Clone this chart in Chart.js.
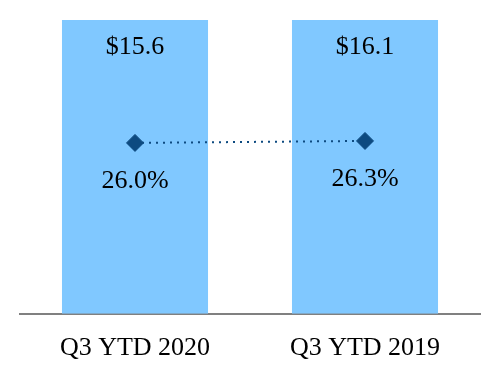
<!DOCTYPE html>
<html>
<head>
<meta charset="utf-8">
<script src="https://cdn.jsdelivr.net/npm/chart.js@4/dist/chart.umd.min.js"></script>
<style>
  html, body { margin: 0; padding: 0; background: #fff; }
  #wrap { width: 500px; height: 380px; }
</style>
</head>
<body>
<div id="wrap"><canvas id="myChart"></canvas></div>
<script>
// dati
var categorie = ['Q3 YTD 2020', 'Q3 YTD 2019'];
var fatturato = [15.6, 16.1];      // etichette in cima alle barre ($)
var altezzaBarre = [1, 1];         // le barre nel grafico hanno la stessa altezza
var margine = [26.0, 26.3];        // linea con i rombi (%)

var azzurro = '#80c8ff';
var bluScuro = '#0d4a80';
var fontSerif = '"Liberation Serif", "Times New Roman", serif';

// plugin per scrivere le etichette sopra barre e punti
var etichette = {
  id: 'etichette',
  afterDatasetsDraw: function(chart){
    var ctx = chart.ctx;
    ctx.save();
    ctx.font = '26px ' + fontSerif;
    ctx.fillStyle = '#000';
    ctx.textAlign = 'center';
    ctx.textBaseline = 'middle';
    var barre = chart.getDatasetMeta(0).data;
    for (var i = 0; i < barre.length; i++) {
      ctx.fillText('$' + fatturato[i].toFixed(1), barre[i].x, barre[i].y + 27);
    }
    var punti = chart.getDatasetMeta(1).data;
    for (var j = 0; j < punti.length; j++) {
      ctx.fillText(margine[j].toFixed(1) + '%', punti[j].x, punti[j].y + 38);
    }
    ctx.restore();
  }
};

var grafico = new Chart(document.getElementById('myChart'), {
  type: 'bar',
  data: {
    labels: categorie,
    datasets: [{
      type: 'bar',
      data: altezzaBarre,
      backgroundColor: azzurro,
      borderWidth: 0,
      barPercentage: 0.635,
      categoryPercentage: 1,
      yAxisID: 'y',
      order: 2
    }, {
      type: 'line',
      data: margine,
      yAxisID: 'y2',
      borderColor: bluScuro,
      borderWidth: 2,
      borderDash: [2, 5],
      pointStyle: 'rectRot',
      pointRadius: 8.5,
      pointBackgroundColor: bluScuro,
      pointBorderColor: bluScuro,
      pointBorderWidth: 1,
      fill: false,
      order: 1
    }]
  },
  options: {
    responsive: true,
    maintainAspectRatio: false,
    animation: false,
    layout: { padding: { top: 20, left: 20, right: 20, bottom: -3 } },
    plugins: {
      legend: { display: false },
      tooltip: { enabled: false }
    },
    scales: {
      x: {
        grid: { display: false, drawTicks: false },
        border: { display: true, color: '#808080', width: 2 },
        ticks: {
          color: '#000',
          padding: 19,
          font: { family: fontSerif, size: 26 }
        }
      },
      y: { display: false, min: 0, max: 1 },
      y2: { display: false, min: 0, max: 44.7 }
    }
  },
  plugins: [etichette]
});
</script>
</body>
</html>
